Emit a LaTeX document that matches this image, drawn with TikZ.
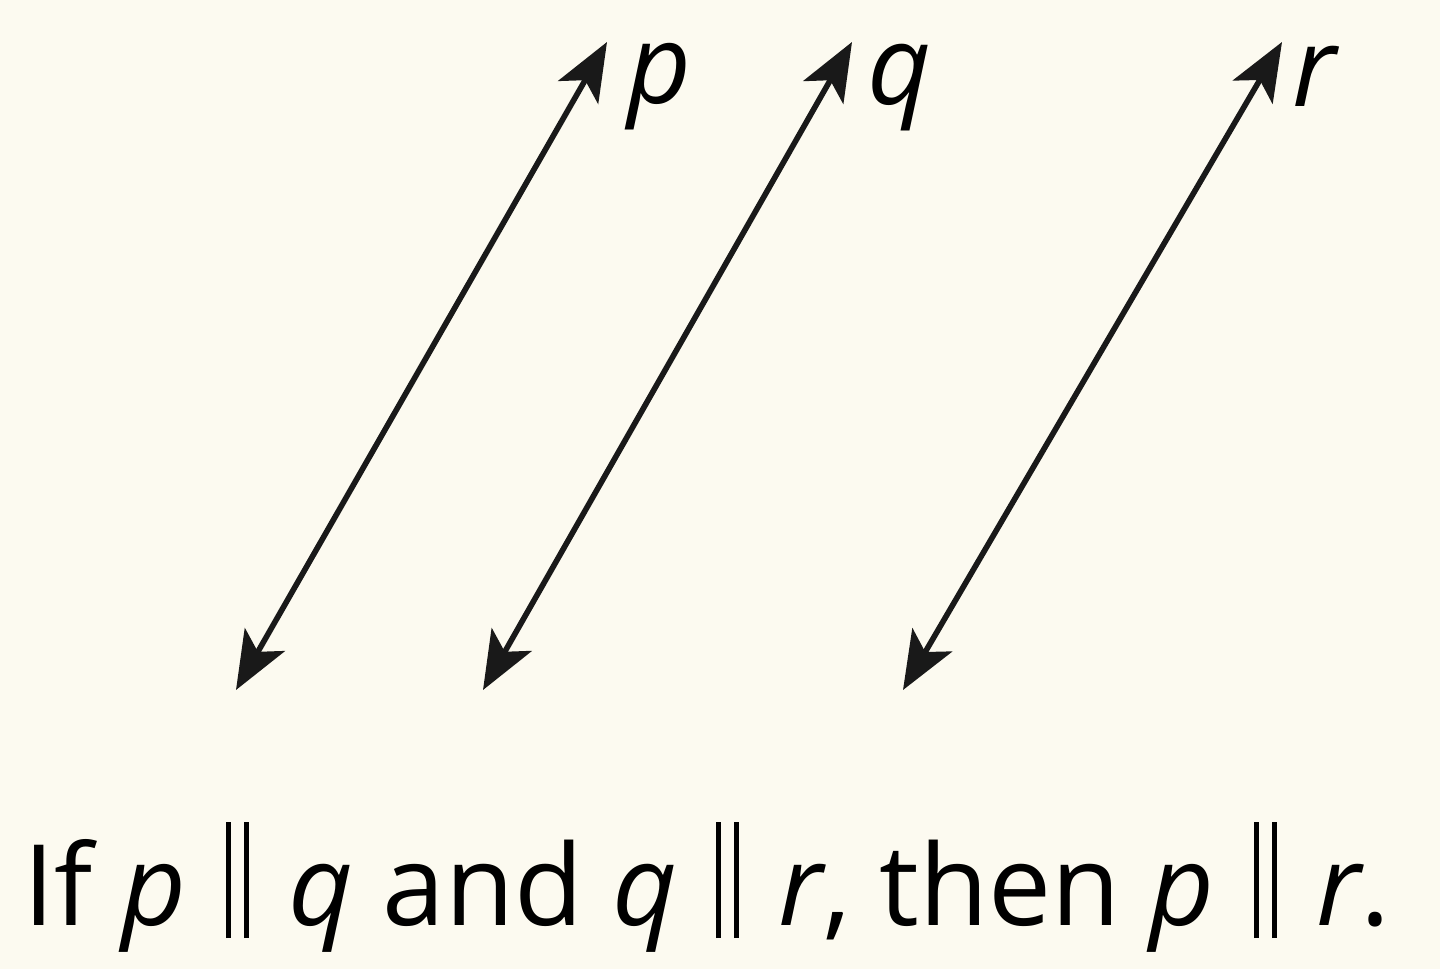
\documentclass[tikz,border=0pt]{standalone}
\usepackage{fontspec}
\setmainfont{Open Sans}
\usepackage{xcolor}
\usetikzlibrary{arrows.meta,positioning}
\definecolor{bgcream}{RGB}{252,250,240}
\newcommand{\dpar}{\hspace{0.1cm}\rule[-0.13cm]{0.05cm}{1.16cm}\hspace{0.13cm}\rule[-0.13cm]{0.05cm}{1.16cm}\hspace{0.1cm}}

\begin{document}
\begin{tikzpicture}[
line/.style={line width=1.6pt, black!90, {Stealth[length=0.58cm, width=0.46cm, inset=0.14cm]}-{Stealth[length=0.58cm, width=0.46cm, inset=0.14cm]}},
lbl/.style={inner sep=0pt, anchor=north west, font=\fontsize{31.5}{38}\selectfont\itshape},
caption/.style={inner sep=0pt, anchor=base, font=\fontsize{32}{38}\selectfont},
]
\fill[bgcream] (0,0) rectangle (14.4,9.69);
\useasboundingbox (0,0) rectangle (14.4,9.69);

\coordinate (p1) at (2.36,2.79);
\coordinate (p2) at (6.07,9.27);
\coordinate (q1) at (4.83,2.79);
\coordinate (q2) at (8.52,9.27);
\coordinate (r1) at (9.03,2.79);
\coordinate (r2) at (12.82,9.27);

\draw[line] (p1) -- (p2);
\draw[line] (q1) -- (q2);
\draw[line] (r1) -- (r2);

\node (lp) [lbl] at (6.27,9.26) {p};
\node (lq) [lbl] at (8.67,9.26) {q};
\node (lr) [lbl] at (12.92,9.24) {r};

\node (cap) [caption] at (7.07,0.44) {If \textit{p} \dpar{} \textit{q} and \textit{q} \dpar{} \textit{r}, then \textit{p} \dpar{} \textit{r}.};
\end{tikzpicture}
\end{document}
